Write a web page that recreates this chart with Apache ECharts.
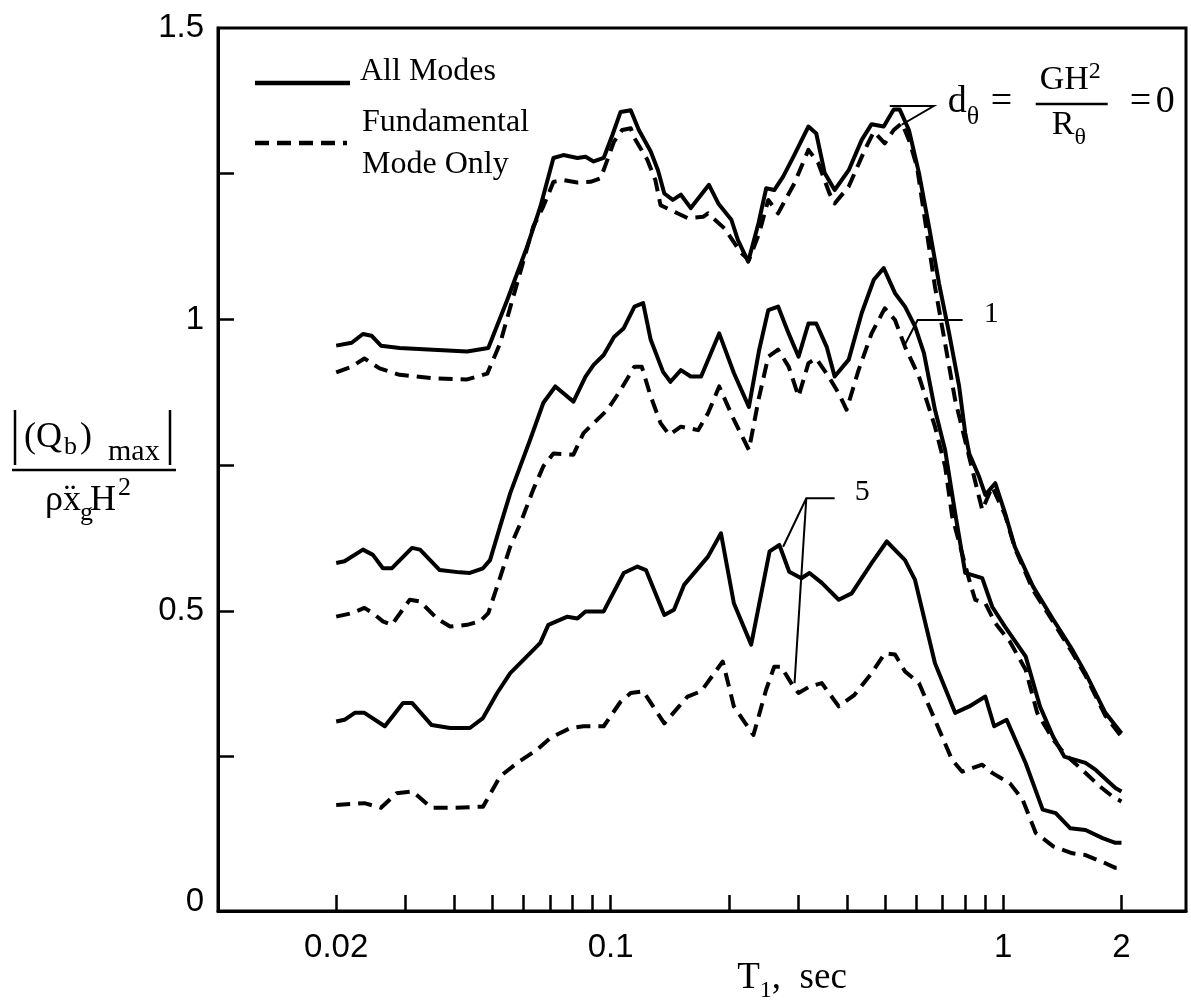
<!DOCTYPE html>
<html>
<head>
<meta charset="utf-8">
<title>Base shear spectrum</title>
<script src="https://cdn.jsdelivr.net/npm/echarts@6/dist/echarts.min.js"></script>
<style>
    html, body { margin: 0; padding: 0; background: #fff; }
    #main { width: 1191px; height: 1000px; }
</style>
</head>
<body>
<div id="main"></div>
<script>
// [T1 (sec), |(Qb)max| / (rho xg H^2)]
var allModesD0 = [[0.02,0.955],[0.0219,0.960],[0.0234,0.975],[0.0246,0.972],[0.026,0.955],[0.029,0.951],[0.0353,0.948],[0.0431,0.945],[0.0488,0.951],[0.0545,1.033],[0.0613,1.125],[0.0662,1.193],[0.0715,1.277],[0.0758,1.282],[0.0823,1.277],[0.0863,1.279],[0.0905,1.271],[0.096,1.277],[0.101,1.316],[0.106,1.356],[0.1125,1.359],[0.118,1.325],[0.1265,1.288],[0.132,1.256],[0.137,1.216],[0.144,1.205],[0.151,1.214],[0.160,1.191],[0.178,1.231],[0.188,1.199],[0.203,1.171],[0.211,1.136],[0.224,1.099],[0.238,1.165],[0.249,1.225],[0.261,1.222],[0.275,1.245],[0.292,1.279],[0.319,1.331],[0.334,1.319],[0.351,1.251],[0.372,1.222],[0.404,1.256],[0.436,1.308],[0.462,1.335],[0.496,1.331],[0.526,1.360],[0.545,1.360],[0.575,1.325],[0.610,1.251],[0.647,1.159],[0.686,1.062],[0.728,0.976],[0.772,0.885],[0.800,0.805],[0.819,0.770],[0.868,0.730],[0.900,0.699],[0.954,0.719],[1.01,0.668],[1.07,0.610],[1.19,0.542],[1.34,0.485],[1.50,0.433],[1.62,0.393],[1.82,0.325],[2,0.290]];
var fundD0 = [[0.02,0.909],[0.0219,0.919],[0.0236,0.933],[0.0258,0.916],[0.029,0.905],[0.0353,0.899],[0.0431,0.897],[0.0485,0.907],[0.0523,0.959],[0.0565,1.039],[0.0635,1.159],[0.0674,1.194],[0.0715,1.236],[0.0758,1.239],[0.0823,1.235],[0.0889,1.236],[0.0943,1.242],[0.102,1.305],[0.107,1.325],[0.1125,1.328],[0.115,1.311],[0.124,1.274],[0.130,1.239],[0.134,1.196],[0.145,1.185],[0.157,1.174],[0.172,1.176],[0.177,1.182],[0.195,1.156],[0.215,1.114],[0.225,1.102],[0.239,1.148],[0.252,1.205],[0.267,1.182],[0.294,1.234],[0.319,1.291],[0.338,1.268],[0.361,1.216],[0.372,1.199],[0.404,1.228],[0.444,1.291],[0.468,1.322],[0.499,1.302],[0.526,1.325],[0.552,1.337],[0.575,1.308],[0.603,1.262],[0.670,1.056],[0.754,0.862],[0.884,0.673],[0.937,0.713],[1.01,0.665],[1.07,0.608],[1.19,0.536],[1.34,0.481],[1.50,0.428],[1.62,0.389],[1.82,0.320],[2,0.284]];
var allModesD1 = [[0.02,0.582],[0.021,0.585],[0.0234,0.605],[0.0248,0.596],[0.0263,0.573],[0.0277,0.573],[0.0312,0.608],[0.0327,0.605],[0.0367,0.570],[0.0413,0.566],[0.0438,0.565],[0.0473,0.573],[0.0493,0.587],[0.0523,0.645],[0.0555,0.702],[0.0624,0.794],[0.0674,0.857],[0.0723,0.885],[0.0804,0.859],[0.0863,0.902],[0.0905,0.922],[0.096,0.939],[0.102,0.970],[0.108,0.985],[0.115,1.022],[0.121,1.028],[0.1265,0.965],[0.136,0.910],[0.142,0.893],[0.151,0.913],[0.160,0.902],[0.170,0.902],[0.189,0.976],[0.206,0.908],[0.225,0.850],[0.239,0.948],[0.252,1.016],[0.267,1.022],[0.284,0.976],[0.301,0.936],[0.319,0.993],[0.334,0.993],[0.355,0.953],[0.372,0.902],[0.404,0.931],[0.436,1.011],[0.468,1.068],[0.496,1.088],[0.530,1.045],[0.562,1.022],[0.596,0.988],[0.628,0.942],[0.670,0.845],[0.711,0.776],[0.754,0.668],[0.800,0.565],[0.884,0.556],[0.937,0.507],[1.01,0.473],[1.14,0.422],[1.24,0.336],[1.34,0.284],[1.43,0.250],[1.62,0.239],[1.72,0.227],[1.93,0.196],[2,0.190]];
var fundD1 = [[0.02,0.490],[0.0219,0.496],[0.0236,0.505],[0.0248,0.496],[0.0263,0.482],[0.0277,0.476],[0.0308,0.519],[0.0327,0.516],[0.0361,0.487],[0.039,0.473],[0.0431,0.476],[0.0465,0.482],[0.0488,0.496],[0.0514,0.542],[0.0555,0.610],[0.0589,0.650],[0.0635,0.708],[0.0674,0.748],[0.0715,0.770],[0.0804,0.768],[0.0853,0.805],[0.0905,0.822],[0.0982,0.845],[0.106,0.879],[0.115,0.919],[0.120,0.919],[0.1265,0.868],[0.134,0.822],[0.141,0.802],[0.151,0.816],[0.167,0.810],[0.177,0.839],[0.189,0.885],[0.206,0.828],[0.225,0.776],[0.238,0.862],[0.252,0.936],[0.267,0.948],[0.284,0.919],[0.301,0.868],[0.319,0.925],[0.334,0.933],[0.359,0.902],[0.381,0.873],[0.399,0.845],[0.428,0.913],[0.462,0.976],[0.499,1.019],[0.530,0.999],[0.562,0.953],[0.610,0.902],[0.670,0.816],[0.711,0.748],[0.741,0.662],[0.819,0.553],[0.848,0.519],[0.900,0.513],[0.954,0.479],[1.04,0.447],[1.14,0.399],[1.22,0.325],[1.34,0.279],[1.44,0.253],[1.59,0.227],[1.76,0.199],[1.90,0.181],[2,0.173]];
var allModesD5 = [[0.02,0.310],[0.021,0.313],[0.0223,0.325],[0.0236,0.325],[0.0266,0.302],[0.0296,0.342],[0.0312,0.342],[0.035,0.304],[0.039,0.299],[0.0438,0.299],[0.0473,0.316],[0.0514,0.359],[0.0555,0.393],[0.0662,0.445],[0.0694,0.476],[0.0776,0.490],[0.0823,0.487],[0.0863,0.499],[0.096,0.499],[0.108,0.565],[0.117,0.576],[0.123,0.570],[0.137,0.493],[0.145,0.502],[0.154,0.545],[0.177,0.593],[0.191,0.633],[0.206,0.513],[0.228,0.442],[0.254,0.602],[0.269,0.613],[0.285,0.567],[0.306,0.556],[0.321,0.565],[0.345,0.548],[0.381,0.519],[0.411,0.530],[0.462,0.582],[0.505,0.619],[0.562,0.587],[0.596,0.553],[0.670,0.410],[0.754,0.325],[0.819,0.336],[0.900,0.353],[0.948,0.302],[1.02,0.313],[1.14,0.239],[1.26,0.159],[1.36,0.153],[1.48,0.127],[1.62,0.124],[1.79,0.110],[1.93,0.102],[2,0.102]];
var fundD5 = [[0.02,0.167],[0.0236,0.170],[0.026,0.162],[0.0285,0.187],[0.0313,0.190],[0.035,0.162],[0.039,0.162],[0.0473,0.164],[0.0523,0.216],[0.0578,0.239],[0.065,0.262],[0.0702,0.282],[0.079,0.299],[0.0853,0.302],[0.096,0.302],[0.106,0.344],[0.1125,0.359],[0.121,0.362],[0.137,0.307],[0.148,0.333],[0.157,0.353],[0.170,0.362],[0.193,0.413],[0.206,0.336],[0.231,0.287],[0.249,0.365],[0.261,0.404],[0.272,0.404],[0.292,0.370],[0.301,0.359],[0.321,0.370],[0.345,0.376],[0.381,0.336],[0.418,0.356],[0.462,0.393],[0.499,0.427],[0.530,0.425],[0.562,0.396],[0.610,0.376],[0.658,0.325],[0.741,0.244],[0.786,0.224],[0.884,0.236],[0.937,0.222],[1.04,0.204],[1.12,0.176],[1.21,0.119],[1.34,0.096],[1.50,0.084],[1.62,0.081],[1.82,0.067],[1.93,0.059],[2,0.059]];

// axis ticks / labels
var xTickValues = [0.02,0.03,0.04,0.05,0.06,0.07,0.08,0.09,0.1,0.2,0.3,0.4,0.5,0.6,0.7,0.8,0.9,1,2];
var xLabelValues = [0.02, 0.1, 1, 2];
var yTickValues = [0.25, 0.5, 0.75, 1, 1.25];
var yLabelValues = [0, 0.5, 1, 1.5];

// leader lines for the d_theta labels, in data space
var leaderD0 = [[0.514,1.366],[0.665,1.366],[0.551,1.334]];
var leaderD1 = [[0.558,0.953],[0.605,0.999],[0.788,0.999]];
var leaderD5 = [[0.275,0.610],[0.315,0.693],[0.372,0.693]];
var leaderD5b = [[0.315,0.693],[0.294,0.376]];

var SERIF = '"Liberation Serif", "Times New Roman", serif';
var SANS = '"Liberation Sans", Arial, sans-serif';

var lg = Math.log10;
function toXY(pts) { return pts.map(function (p) { return [lg(p[0]), p[1]]; }); }
function fmtT(v) { return String(Number(Math.pow(10, v).toPrecision(2))); }

function curve(name, pts, dashed) {
    return {
        name: name,
        type: 'line',
        data: toXY(pts),
        symbol: 'none',
        silent: true,
        animation: false,
        z: 3,
        lineStyle: { color: '#000', width: 4, type: dashed ? [14, 8] : 'solid', join: 'round' }
    };
}

var chart = echarts.init(document.getElementById('main'));
chart.setOption({
    backgroundColor: '#fff',
    animation: false,
    grid: { left: 218, right: 5, top: 28, bottom: 89, show: true, borderColor: '#000', borderWidth: 3 },
    xAxis: {
        type: 'value',
        min: lg(0.01),
        max: lg(2.92),
        axisLine: { show: true, onZero: false, lineStyle: { color: '#000', width: 3 } },
        axisTick: { show: true, inside: true, length: 16, customValues: xTickValues.map(lg), lineStyle: { color: '#000', width: 2.5 } },
        axisLabel: { customValues: xLabelValues.map(lg), formatter: fmtT, margin: 20, color: '#000', fontSize: 33, fontFamily: SANS },
        splitLine: { show: false }
    },
    yAxis: {
        type: 'value',
        min: -0.015,
        max: 1.5,
        axisLine: { show: true, onZero: false, lineStyle: { color: '#000', width: 3 } },
        axisTick: { show: true, inside: true, length: 16, customValues: yTickValues, lineStyle: { color: '#000', width: 2.5 } },
        axisLabel: { customValues: yLabelValues, formatter: function (v) { return String(v); }, margin: 14, color: '#000', fontSize: 33, fontFamily: SANS },
        splitLine: { show: false }
    },
    series: [
        curve('All Modes, d=0', allModesD0, false),
        curve('Fundamental, d=0', fundD0, true),
        curve('All Modes, d=1', allModesD1, false),
        curve('Fundamental, d=1', fundD1, true),
        curve('All Modes, d=5', allModesD5, false),
        curve('Fundamental, d=5', fundD5, true)
    ]
});

// ---- annotations ----
var ctx = document.createElement('canvas').getContext('2d');
function tw(s, size, fam) { ctx.font = size + 'px ' + (fam || SERIF); return ctx.measureText(s).width; }
function txt(x, base, s, size, fam) {
    return {
        type: 'text', silent: true, z: 10,
        style: {
            x: x, y: base - 0.34 * size, text: s, font: size + 'px ' + (fam || SERIF), fill: '#000',
            align: 'left', verticalAlign: 'middle', textAlign: 'left', textVerticalAlign: 'middle'
        }
    };
}
function seg(x1, y1, x2, y2, w, dash) {
    var st = { stroke: '#000', lineWidth: w || 2 };
    if (dash) st.lineDash = dash;
    return { type: 'line', silent: true, z: 10, shape: { x1: x1, y1: y1, x2: x2, y2: y2 }, style: st };
}
function px(p) { return chart.convertToPixel({ gridIndex: 0 }, [lg(p[0]), p[1]]); }
function leader(pts) {
    return { type: 'polyline', silent: true, z: 10, shape: { points: pts.map(px) }, style: { stroke: '#000', lineWidth: 2, fill: null } };
}
// run of text pieces centred on cx; each piece [text, size, baseline shift]
function run(cx, base, parts) {
    var total = 0, out = [];
    parts.forEach(function (p) { total += tw(p[0], p[1]); });
    var x = cx - total / 2;
    parts.forEach(function (p) { out.push(txt(x, base + p[2], p[0], p[1])); x += tw(p[0], p[1]); });
    return out;
}

var g = [];
// legend
g.push(seg(255, 83, 350, 83, 4.5));
g.push(txt(360, 82, 'All Modes', 32));
g.push(seg(255, 143, 347, 143, 4.5, [14, 8]));
g.push(txt(362, 133, 'Fundamental', 32));
g.push(txt(362, 175, 'Mode Only', 32));

// y-axis title  |(Qb)max| / (rho xg H^2)
g.push(seg(15, 410, 15, 465, 2.5));
g.push(seg(170, 410, 170, 465, 2.5));
g.push(txt(24, 450, '(Q', 36));
g.push(txt(64, 456, 'b', 26));
g.push(txt(80, 450, ')', 36));
g.push(txt(108, 462, 'max', 30));
g.push(seg(12, 470, 176, 470, 2.5));
g.push(txt(45, 513, '\u03c1', 36));
g.push(txt(63, 513, 'x', 36));
g.push(txt(64, 511, '\u00a8', 36));
g.push(txt(80, 522, 'g', 26));
g.push(txt(90, 513, 'H', 36));
g.push(txt(118, 497, '2', 26));

// x-axis title
run(792, 991, [['T', 37, 0], ['1', 24, 8], [',  sec', 37, 0]]).forEach(function (e) { g.push(e); });

// d_theta = 0 label
g.push(leader(leaderD0));
var a0 = px(leaderD0[1]);
g.push(txt(a0[0] + 14, a0[1] + 9, 'd', 38));
g.push(txt(a0[0] + 33, a0[1] + 20, '\u03b8', 26));
g.push(txt(a0[0] + 57, a0[1] + 9, '=', 38));
g.push(txt(a0[0] + 106, a0[1] - 14, 'GH', 34));
g.push(txt(a0[0] + 106 + tw('GH', 34), a0[1] - 26, '2', 24));
g.push(seg(a0[0] + 102, a0[1] - 2, a0[0] + 174, a0[1] - 2, 2.5));
g.push(txt(a0[0] + 118, a0[1] + 31, 'R', 34));
g.push(txt(a0[0] + 118 + tw('R', 34), a0[1] + 40, '\u03b8', 24));
g.push(txt(a0[0] + 196, a0[1] + 9, '=', 38));
g.push(txt(a0[0] + 222, a0[1] + 9, '0', 38));

// d_theta = 1 label
g.push(leader(leaderD1));
var a1 = px(leaderD1[2]);
g.push(txt(a1[0] + 21, a1[1] + 4, '1', 30));

// d_theta = 5 label
g.push(leader(leaderD5));
g.push(leader(leaderD5b));
var a5 = px(leaderD5[2]);
g.push(txt(a5[0] + 20, a5[1] + 4, '5', 30));

chart.setOption({ graphic: { elements: g } });
</script>
</body>
</html>
